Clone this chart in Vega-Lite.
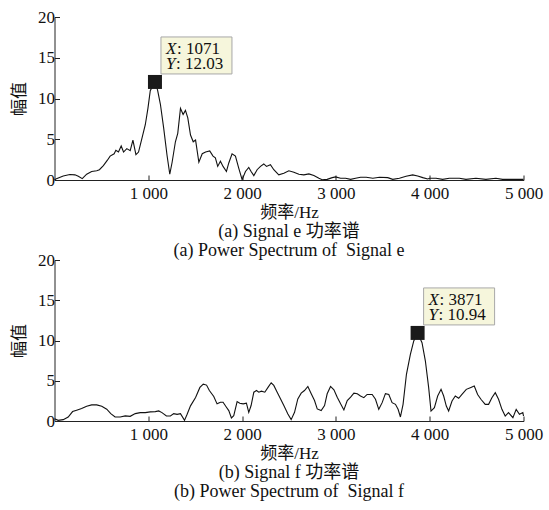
{
  "$schema": "https://vega.github.io/schema/vega-lite/v6.json",
  "background": "white",
  "padding": {"left": 9.5, "top": 8, "right": 5, "bottom": 5},
  "bounds": "flush",
  "spacing": 80,
  "config": {
    "font": "Liberation Serif, Noto Sans CJK SC",
    "view": {"stroke": null},
    "axis": {
      "grid": false,
      "domainColor": "#222",
      "domainWidth": 1,
      "tickColor": "#222",
      "tickWidth": 1,
      "labelColor": "#111",
      "titleColor": "#111",
      "labelFont": "Liberation Serif",
      "labelFontSize": 17,
      "titleFont": "Liberation Serif, Noto Sans CJK SC",
      "titleFontSize": 17,
      "titleFontWeight": "normal",
      "labelFlush": false,
      "labelOverlap": false,
      "labelBound": false
    },
    "title": {
      "font": "Liberation Serif, Noto Sans CJK SC",
      "fontSize": 18,
      "fontWeight": "normal",
      "color": "#111",
      "lineHeight": 19,
      "orient": "bottom",
      "anchor": "middle",
      "frame": "group",
      "offset": 3
    }
  },
  "datasets": {
    "e": [
      {"x":0,"y":0},{"x":21,"y":0.17},{"x":93,"y":0.5},{"x":164,"y":0.67},{"x":218,"y":0.63},{"x":254,"y":0.46},{"x":296,"y":0.17},{"x":343,"y":0.71},{"x":396,"y":1.05},{"x":450,"y":1.13},{"x":479,"y":1.26},{"x":521,"y":1.76},{"x":564,"y":2.43},{"x":593,"y":2.93},{"x":636,"y":3.22},{"x":654,"y":3.64},{"x":682,"y":3.43},{"x":711,"y":4.18},{"x":736,"y":3.43},{"x":771,"y":3.85},{"x":807,"y":3.6},{"x":836,"y":4.9},{"x":868,"y":3.1},{"x":896,"y":3.43},{"x":932,"y":5.1},{"x":968,"y":6.78},{"x":996,"y":8.79},{"x":1021,"y":10.96},{"x":1050,"y":11.6},{"x":1071,"y":11.8},{"x":1090,"y":11.4},{"x":1100,"y":10.96},{"x":1129,"y":9.29},{"x":1164,"y":6.36},{"x":1200,"y":3.0},{"x":1229,"y":0.71},{"x":1254,"y":2.18},{"x":1289,"y":4.69},{"x":1314,"y":5.73},{"x":1343,"y":8.79},{"x":1371,"y":8.03},{"x":1396,"y":8.54},{"x":1421,"y":7.62},{"x":1450,"y":5.52},{"x":1479,"y":4.69},{"x":1504,"y":4.9},{"x":1539,"y":2.18},{"x":1575,"y":3.22},{"x":1611,"y":3.43},{"x":1655,"y":3.56},{"x":1690,"y":2.93},{"x":1715,"y":2.72},{"x":1740,"y":1.67},{"x":1769,"y":2.3},{"x":1797,"y":1.67},{"x":1833,"y":1.05},{"x":1858,"y":2.09},{"x":1893,"y":3.22},{"x":1929,"y":2.93},{"x":1964,"y":1.46},{"x":2000,"y":0.05},{"x":2036,"y":1.05},{"x":2071,"y":1.55},{"x":2096,"y":1.05},{"x":2125,"y":0.54},{"x":2160,"y":1.26},{"x":2196,"y":1.67},{"x":2231,"y":1.97},{"x":2260,"y":1.67},{"x":2302,"y":1.88},{"x":2338,"y":1.26},{"x":2391,"y":0.63},{"x":2445,"y":0.84},{"x":2498,"y":1.13},{"x":2552,"y":0.96},{"x":2605,"y":0.71},{"x":2658,"y":0.63},{"x":2712,"y":0.75},{"x":2765,"y":0.54},{"x":2819,"y":0.21},{"x":2854,"y":0.04},{"x":2907,"y":0.08},{"x":2961,"y":0.29},{"x":2996,"y":0.38},{"x":3050,"y":0.21},{"x":3103,"y":0.21},{"x":3157,"y":0.08},{"x":3210,"y":0.21},{"x":3263,"y":0.33},{"x":3323,"y":0.33},{"x":3394,"y":0.21},{"x":3465,"y":0.33},{"x":3553,"y":0.29},{"x":3606,"y":0.08},{"x":3677,"y":0.21},{"x":3748,"y":0.46},{"x":3819,"y":0.63},{"x":3872,"y":0.5},{"x":3926,"y":0.29},{"x":3979,"y":0.13},{"x":4000,"y":0.21},{"x":4067,"y":0.21},{"x":4138,"y":0.08},{"x":4209,"y":0.21},{"x":4316,"y":0.21},{"x":4387,"y":0.08},{"x":4493,"y":0.21},{"x":4599,"y":0.08},{"x":4706,"y":0.21},{"x":4777,"y":0.08},{"x":5000,"y":0.08}
    ],
    "f": [
      {"x":0,"y":0.29},{"x":39,"y":0.08},{"x":93,"y":0.17},{"x":146,"y":0.5},{"x":193,"y":1.17},{"x":236,"y":1.33},{"x":289,"y":1.54},{"x":343,"y":1.83},{"x":396,"y":2.0},{"x":450,"y":2.0},{"x":504,"y":1.83},{"x":557,"y":1.46},{"x":600,"y":0.92},{"x":646,"y":0.5},{"x":700,"y":0.5},{"x":754,"y":0.63},{"x":807,"y":0.58},{"x":861,"y":0.92},{"x":914,"y":1.04},{"x":968,"y":1.04},{"x":1021,"y":1.13},{"x":1075,"y":1.17},{"x":1111,"y":1.25},{"x":1146,"y":1.04},{"x":1193,"y":0.63},{"x":1236,"y":0.63},{"x":1271,"y":0.92},{"x":1307,"y":0.83},{"x":1343,"y":0.92},{"x":1386,"y":0.08},{"x":1414,"y":0.83},{"x":1450,"y":1.88},{"x":1504,"y":2.92},{"x":1550,"y":4.17},{"x":1586,"y":4.58},{"x":1621,"y":4.46},{"x":1651,"y":3.79},{"x":1698,"y":3.04},{"x":1733,"y":2.13},{"x":1769,"y":2.33},{"x":1797,"y":2.33},{"x":1833,"y":1.71},{"x":1858,"y":1.29},{"x":1886,"y":0.38},{"x":1911,"y":0.67},{"x":1947,"y":2.42},{"x":1975,"y":2.21},{"x":2011,"y":2.13},{"x":2046,"y":2.21},{"x":2071,"y":1.08},{"x":2096,"y":1.92},{"x":2125,"y":3.58},{"x":2153,"y":3.79},{"x":2178,"y":3.58},{"x":2206,"y":3.71},{"x":2242,"y":3.58},{"x":2278,"y":4.21},{"x":2310,"y":4.75},{"x":2338,"y":4.42},{"x":2374,"y":3.58},{"x":2409,"y":2.75},{"x":2445,"y":1.92},{"x":2488,"y":0.88},{"x":2523,"y":0.17},{"x":2559,"y":1.08},{"x":2594,"y":2.75},{"x":2630,"y":3.46},{"x":2665,"y":3.79},{"x":2701,"y":4.29},{"x":2737,"y":3.38},{"x":2772,"y":2.54},{"x":2801,"y":1.5},{"x":2843,"y":1.29},{"x":2879,"y":1.92},{"x":2907,"y":3.38},{"x":2943,"y":4.29},{"x":2979,"y":3.88},{"x":3014,"y":2.96},{"x":3050,"y":2.13},{"x":3085,"y":1.38},{"x":3121,"y":2.54},{"x":3157,"y":2.96},{"x":3192,"y":3.46},{"x":3228,"y":3.38},{"x":3262,"y":3.1},{"x":3298,"y":2.9},{"x":3333,"y":3.3},{"x":3387,"y":3.3},{"x":3422,"y":2.7},{"x":3457,"y":1.45},{"x":3493,"y":2.28},{"x":3528,"y":3.4},{"x":3564,"y":3.3},{"x":3599,"y":2.28},{"x":3635,"y":2.07},{"x":3663,"y":1.45},{"x":3688,"y":0.5},{"x":3716,"y":2.07},{"x":3752,"y":5.8},{"x":3794,"y":8.28},{"x":3830,"y":9.94},{"x":3871,"y":10.94},{"x":3918,"y":9.73},{"x":3954,"y":7.45},{"x":3989,"y":4.14},{"x":4014,"y":1.24},{"x":4050,"y":1.66},{"x":4085,"y":3.1},{"x":4121,"y":3.93},{"x":4149,"y":3.1},{"x":4177,"y":1.86},{"x":4202,"y":1.24},{"x":4238,"y":2.48},{"x":4273,"y":3.1},{"x":4309,"y":2.82},{"x":4344,"y":3.3},{"x":4390,"y":3.93},{"x":4433,"y":4.14},{"x":4475,"y":4.35},{"x":4511,"y":3.3},{"x":4546,"y":2.7},{"x":4592,"y":2.07},{"x":4628,"y":2.07},{"x":4663,"y":2.9},{"x":4699,"y":3.52},{"x":4734,"y":2.7},{"x":4770,"y":1.45},{"x":4805,"y":0.62},{"x":4840,"y":1.04},{"x":4887,"y":0.41},{"x":4922,"y":1.45},{"x":4957,"y":0.83},{"x":4993,"y":1.04},{"x":5000,"y":0.62}
    ],
    "peaks": [
      {"panel":"a","x":1071,"y":12.03},
      {"panel":"b","x":3871,"y":10.94}
    ]
  },
  "vconcat": [
    {
      "width": 469,
      "height": 163,
      "title": {"text": ["(a) Signal e 功率谱", "(a) Power Spectrum of \u00a0Signal e"]},
      "layer": [
        {
          "data": {"name": "e"},
          "mark": {"type": "line", "color": "#111", "strokeWidth": 1.1},
          "encoding": {
            "x": {"field": "x", "type": "quantitative", "scale": {"domain": [0, 5000], "nice": false},
              "axis": {"values": [1000, 2000, 3000, 4000, 5000], "labelExpr": "replace(format(datum.value, ','), ',', ' ')", "tickSize": -5, "labelPadding": 10, "titlePadding": 3, "title": "频率/Hz"}},
            "y": {"field": "y", "type": "quantitative", "scale": {"domain": [0, 20], "nice": false},
              "axis": {"values": [0, 5, 10, 15, 20], "tickSize": -5, "labelPadding": 5, "titlePadding": 9.5, "title": "幅值"}}
          }
        },
        {
          "data": {"name": "peaks"},
          "transform": [{"filter": "datum.panel == 'a'"}],
          "mark": {"type": "rect", "fill": "#f6f6dc", "stroke": "#a8a8a8", "strokeWidth": 1, "xOffset": 6, "x2Offset": 77, "yOffset": -45, "y2Offset": -8},
          "encoding": {
            "x": {"field": "x", "type": "quantitative"}, "x2": {"field": "x"},
            "y": {"field": "y", "type": "quantitative"}, "y2": {"field": "y"}
          }
        },
        {
          "data": {"name": "peaks"},
          "transform": [{"filter": "datum.panel == 'a'"}],
          "mark": {"type": "point", "shape": "square", "filled": true, "color": "#1a1a1a", "size": 196, "opacity": 1},
          "encoding": {"x": {"field": "x", "type": "quantitative"}, "y": {"field": "y", "type": "quantitative"}}
        },
        {
          "data": {"name": "peaks"},
          "transform": [{"filter": "datum.panel == 'a'"}],
          "mark": {"type": "text", "font": "Liberation Serif", "fontSize": 17, "fontStyle": "italic", "align": "left", "baseline": "alphabetic", "dx": 11, "dy": -27.5, "color": "#111"},
          "encoding": {"x": {"field": "x", "type": "quantitative"}, "y": {"field": "y", "type": "quantitative"}, "text": {"value": "X"}}
        },
        {
          "data": {"name": "peaks"},
          "transform": [{"filter": "datum.panel == 'a'"}, {"calculate": "': ' + datum.x", "as": "lbl"}],
          "mark": {"type": "text", "font": "Liberation Serif", "fontSize": 17, "align": "left", "baseline": "alphabetic", "dx": 22, "dy": -27.5, "color": "#111"},
          "encoding": {"x": {"field": "x", "type": "quantitative"}, "y": {"field": "y", "type": "quantitative"}, "text": {"field": "lbl"}}
        },
        {
          "data": {"name": "peaks"},
          "transform": [{"filter": "datum.panel == 'a'"}],
          "mark": {"type": "text", "font": "Liberation Serif", "fontSize": 17, "fontStyle": "italic", "align": "left", "baseline": "alphabetic", "dx": 11, "dy": -12.5, "color": "#111"},
          "encoding": {"x": {"field": "x", "type": "quantitative"}, "y": {"field": "y", "type": "quantitative"}, "text": {"value": "Y"}}
        },
        {
          "data": {"name": "peaks"},
          "transform": [{"filter": "datum.panel == 'a'"}, {"calculate": "': ' + format(datum.y, '.2f')", "as": "lbl"}],
          "mark": {"type": "text", "font": "Liberation Serif", "fontSize": 17, "align": "left", "baseline": "alphabetic", "dx": 21, "dy": -12.5, "color": "#111"},
          "encoding": {"x": {"field": "x", "type": "quantitative"}, "y": {"field": "y", "type": "quantitative"}, "text": {"field": "lbl"}}
        }
      ]
    },
    {
      "width": 469,
      "height": 161,
      "title": {"text": ["(b) Signal f 功率谱", "(b) Power Spectrum of \u00a0Signal f"]},
      "layer": [
        {
          "data": {"name": "f"},
          "mark": {"type": "line", "color": "#111", "strokeWidth": 1.1},
          "encoding": {
            "x": {"field": "x", "type": "quantitative", "scale": {"domain": [0, 5000], "nice": false},
              "axis": {"values": [1000, 2000, 3000, 4000, 5000], "labelExpr": "replace(format(datum.value, ','), ',', ' ')", "tickSize": -5, "labelPadding": 10, "titlePadding": 3, "title": "频率/Hz"}},
            "y": {"field": "y", "type": "quantitative", "scale": {"domain": [0, 20], "nice": false},
              "axis": {"values": [0, 5, 10, 15, 20], "tickSize": -5, "labelPadding": 5, "titlePadding": 9.5, "title": "幅值"}}
          }
        },
        {
          "data": {"name": "peaks"},
          "transform": [{"filter": "datum.panel == 'b'"}],
          "mark": {"type": "rect", "fill": "#f6f6dc", "stroke": "#a8a8a8", "strokeWidth": 1, "xOffset": 6, "x2Offset": 77, "yOffset": -45, "y2Offset": -8},
          "encoding": {
            "x": {"field": "x", "type": "quantitative"}, "x2": {"field": "x"},
            "y": {"field": "y", "type": "quantitative"}, "y2": {"field": "y"}
          }
        },
        {
          "data": {"name": "peaks"},
          "transform": [{"filter": "datum.panel == 'b'"}],
          "mark": {"type": "point", "shape": "square", "filled": true, "color": "#1a1a1a", "size": 196, "opacity": 1},
          "encoding": {"x": {"field": "x", "type": "quantitative"}, "y": {"field": "y", "type": "quantitative"}}
        },
        {
          "data": {"name": "peaks"},
          "transform": [{"filter": "datum.panel == 'b'"}],
          "mark": {"type": "text", "font": "Liberation Serif", "fontSize": 17, "fontStyle": "italic", "align": "left", "baseline": "alphabetic", "dx": 11, "dy": -27.5, "color": "#111"},
          "encoding": {"x": {"field": "x", "type": "quantitative"}, "y": {"field": "y", "type": "quantitative"}, "text": {"value": "X"}}
        },
        {
          "data": {"name": "peaks"},
          "transform": [{"filter": "datum.panel == 'b'"}, {"calculate": "': ' + datum.x", "as": "lbl"}],
          "mark": {"type": "text", "font": "Liberation Serif", "fontSize": 17, "align": "left", "baseline": "alphabetic", "dx": 22, "dy": -27.5, "color": "#111"},
          "encoding": {"x": {"field": "x", "type": "quantitative"}, "y": {"field": "y", "type": "quantitative"}, "text": {"field": "lbl"}}
        },
        {
          "data": {"name": "peaks"},
          "transform": [{"filter": "datum.panel == 'b'"}],
          "mark": {"type": "text", "font": "Liberation Serif", "fontSize": 17, "fontStyle": "italic", "align": "left", "baseline": "alphabetic", "dx": 11, "dy": -12.5, "color": "#111"},
          "encoding": {"x": {"field": "x", "type": "quantitative"}, "y": {"field": "y", "type": "quantitative"}, "text": {"value": "Y"}}
        },
        {
          "data": {"name": "peaks"},
          "transform": [{"filter": "datum.panel == 'b'"}, {"calculate": "': ' + format(datum.y, '.2f')", "as": "lbl"}],
          "mark": {"type": "text", "font": "Liberation Serif", "fontSize": 17, "align": "left", "baseline": "alphabetic", "dx": 21, "dy": -12.5, "color": "#111"},
          "encoding": {"x": {"field": "x", "type": "quantitative"}, "y": {"field": "y", "type": "quantitative"}, "text": {"field": "lbl"}}
        }
      ]
    }
  ]
}
